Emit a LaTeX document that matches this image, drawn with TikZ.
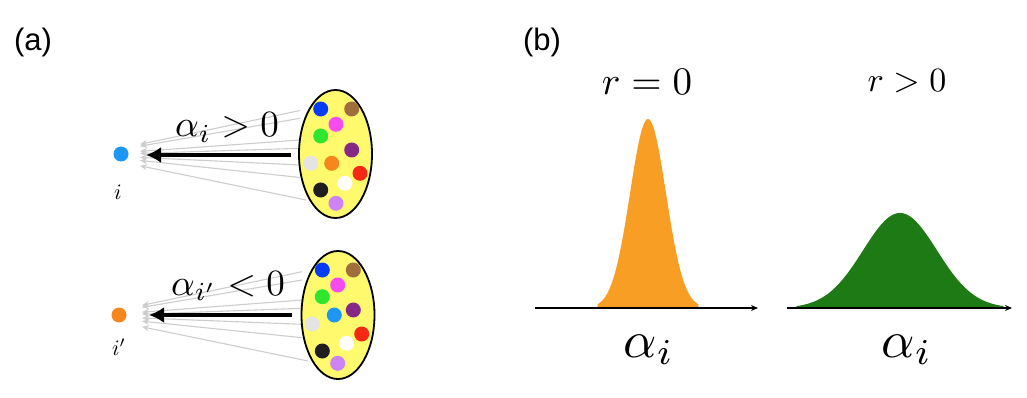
\documentclass[tikz,border=0pt]{standalone}
\usepackage{fontspec}
\setsansfont{Liberation Sans}
\usetikzlibrary{arrows.meta,shapes.geometric}
\definecolor{ellyellow}{RGB}{255,249,110}
\definecolor{cblue}{RGB}{5,60,245}
\definecolor{cbrown}{RGB}{160,110,60}
\definecolor{cmagenta}{RGB}{245,75,240}
\definecolor{cgreen}{RGB}{45,230,45}
\definecolor{cpurple}{RGB}{135,40,135}
\definecolor{clgray}{RGB}{228,228,228}
\definecolor{corange}{RGB}{245,135,30}
\definecolor{cred}{RGB}{245,40,20}
\definecolor{cblack}{RGB}{30,30,30}
\definecolor{cviolet}{RGB}{205,130,245}
\definecolor{clblue}{RGB}{30,150,245}
\definecolor{gaussorange}{RGB}{249,158,36}
\definecolor{gaussgreen}{RGB}{30,122,20}
\definecolor{thingray}{RGB}{205,205,205}
\begin{document}
\begin{tikzpicture}[x=1pt,y=-1pt,
  dotn/.style={circle,inner sep=0pt,minimum size=15pt},
  bag/.style={ellipse,draw=black,line width=1.8pt,fill=ellyellow,inner sep=0pt,minimum width=73pt,minimum height=128pt},
  bigarrow/.style={line width=4pt,-{Latex[length=15pt,width=16pt]}},
  thinarrow/.style={draw=thingray,line width=1.1pt,-{Stealth[length=7pt,width=6pt]}},
  axisarrow/.style={line width=1.5pt,-{Stealth[length=7pt,width=6pt]}},
  panellabel/.style={font=\sffamily\fontsize{31}{35}\selectfont},
  mathlabel/.style={inner sep=0pt,anchor=base,scale=#1},
]
\useasboundingbox (0,0) rectangle (1027,398);

% panel labels
\node[panellabel] (pa) at (33,42) {(a)};
\node[panellabel] (pb) at (542,42) {(b)};

% ---------------- top group ----------------
\foreach \ys [count=\k] in {110.5,118.3,140,148.3,165,177.5,200}{
  \coordinate (gs\k) at ({\k==7 ? 306 : 300},\ys);
  \coordinate (ge\k) at (140,{155+0.24*(\ys-155)});
  \draw[thinarrow] (gs\k) -- (ge\k);
}
\node[bag] (e1) at (335.5,154) {};
\node[dotn,fill=clblue] (ni) at (121,154) {};
\node[mathlabel=2.2] (li) at (118,199) {$i$};

\node[dotn,fill=cblue]    (t1)  at (320.7,109) {};
\node[dotn,fill=cbrown]   (t2)  at (351.7,109) {};
\node[dotn,fill=cmagenta] (t3)  at (336,124.3) {};
\node[dotn,fill=cgreen]   (t4)  at (320.7,136) {};
\node[dotn,fill=cpurple]  (t5)  at (351.7,150) {};
\node[dotn,fill=clgray]   (t6)  at (310.7,163.3) {};
\node[dotn,fill=corange]  (t7)  at (331.7,163.3) {};
\node[dotn,fill=cred]     (t8)  at (360,173.3) {};
\node[dotn,fill=white]    (t9)  at (345,183.3) {};
\node[dotn,fill=cblack]   (t10) at (320.7,190) {};
\node[dotn,fill=cviolet]  (t11) at (336,203.3) {};

\coordinate (a1s) at (291,155);
\coordinate (a1e) at (146,155);
\draw[bigarrow] (a1s) -- (a1e);
\node[mathlabel=3.7] (l1) at (227,137) {$\alpha_i > 0$};

% ---------------- bottom group ----------------
\foreach \ys [count=\k] in {271.7,280,300,308.3,324.3,337.7,361}{
  \coordinate (hs\k) at ({\k==7 ? 308 : 302},\ys);
  \coordinate (he\k) at (142,{316+0.24*(\ys-316)});
  \draw[thinarrow] (hs\k) -- (he\k);
}
\node[bag] (e2) at (338,315) {};
\node[dotn,fill=corange] (nip) at (119,315) {};
\node[mathlabel=2.2] (lip) at (119,355) {$i'$};

\node[dotn,fill=cblue]    (b1)  at (322.3,270) {};
\node[dotn,fill=cbrown]   (b2)  at (353.3,270) {};
\node[dotn,fill=cmagenta] (b3)  at (337.7,285) {};
\node[dotn,fill=cgreen]   (b4)  at (322.3,296.7) {};
\node[dotn,fill=clblue]   (b5)  at (334.3,315) {};
\node[dotn,fill=cpurple]  (b6)  at (353.3,310) {};
\node[dotn,fill=clgray]   (b7)  at (312.3,324) {};
\node[dotn,fill=cred]     (b8)  at (361.7,334) {};
\node[dotn,fill=white]    (b9)  at (346.7,343.3) {};
\node[dotn,fill=cblack]   (b10) at (322.3,351) {};
\node[dotn,fill=cviolet]  (b11) at (337.7,363.3) {};

\coordinate (a2s) at (292,315);
\coordinate (a2e) at (149,315);
\draw[bigarrow] (a2s) -- (a2e);
\node[mathlabel=3.7] (l2) at (228,295) {$\alpha_{i'} < 0$};

% ---------------- panel (b) ----------------
\node[mathlabel=3.9] (r1) at (647,95) {$r = 0$};
\node[mathlabel=3.4] (r2) at (907,92) {$r > 0$};

\fill[gaussorange] (597.6,308) -- plot[domain=-2.8:2.8,samples=140] ({648+18*\x},{308-189*exp(-0.5*\x*\x)}) -- (698.4,308) -- cycle;
\fill[gaussgreen] (797,308) -- plot[domain=-2.8:2.8,samples=140] ({900+37*\x},{308-95*exp(-0.5*\x*\x)}) -- (1003,308) -- cycle;

\coordinate (x1s) at (535,308);
\coordinate (x1e) at (758,308);
\coordinate (x2s) at (787,308);
\coordinate (x2e) at (1012,308);
\draw[axisarrow] (x1s) -- (x1e);
\draw[axisarrow] (x2s) -- (x2e);

\node[mathlabel=5.2] (ax1) at (649,357) {$\alpha_i$};
\node[mathlabel=5.2] (ax2) at (907,357) {$\alpha_i$};
\end{tikzpicture}
\end{document}
